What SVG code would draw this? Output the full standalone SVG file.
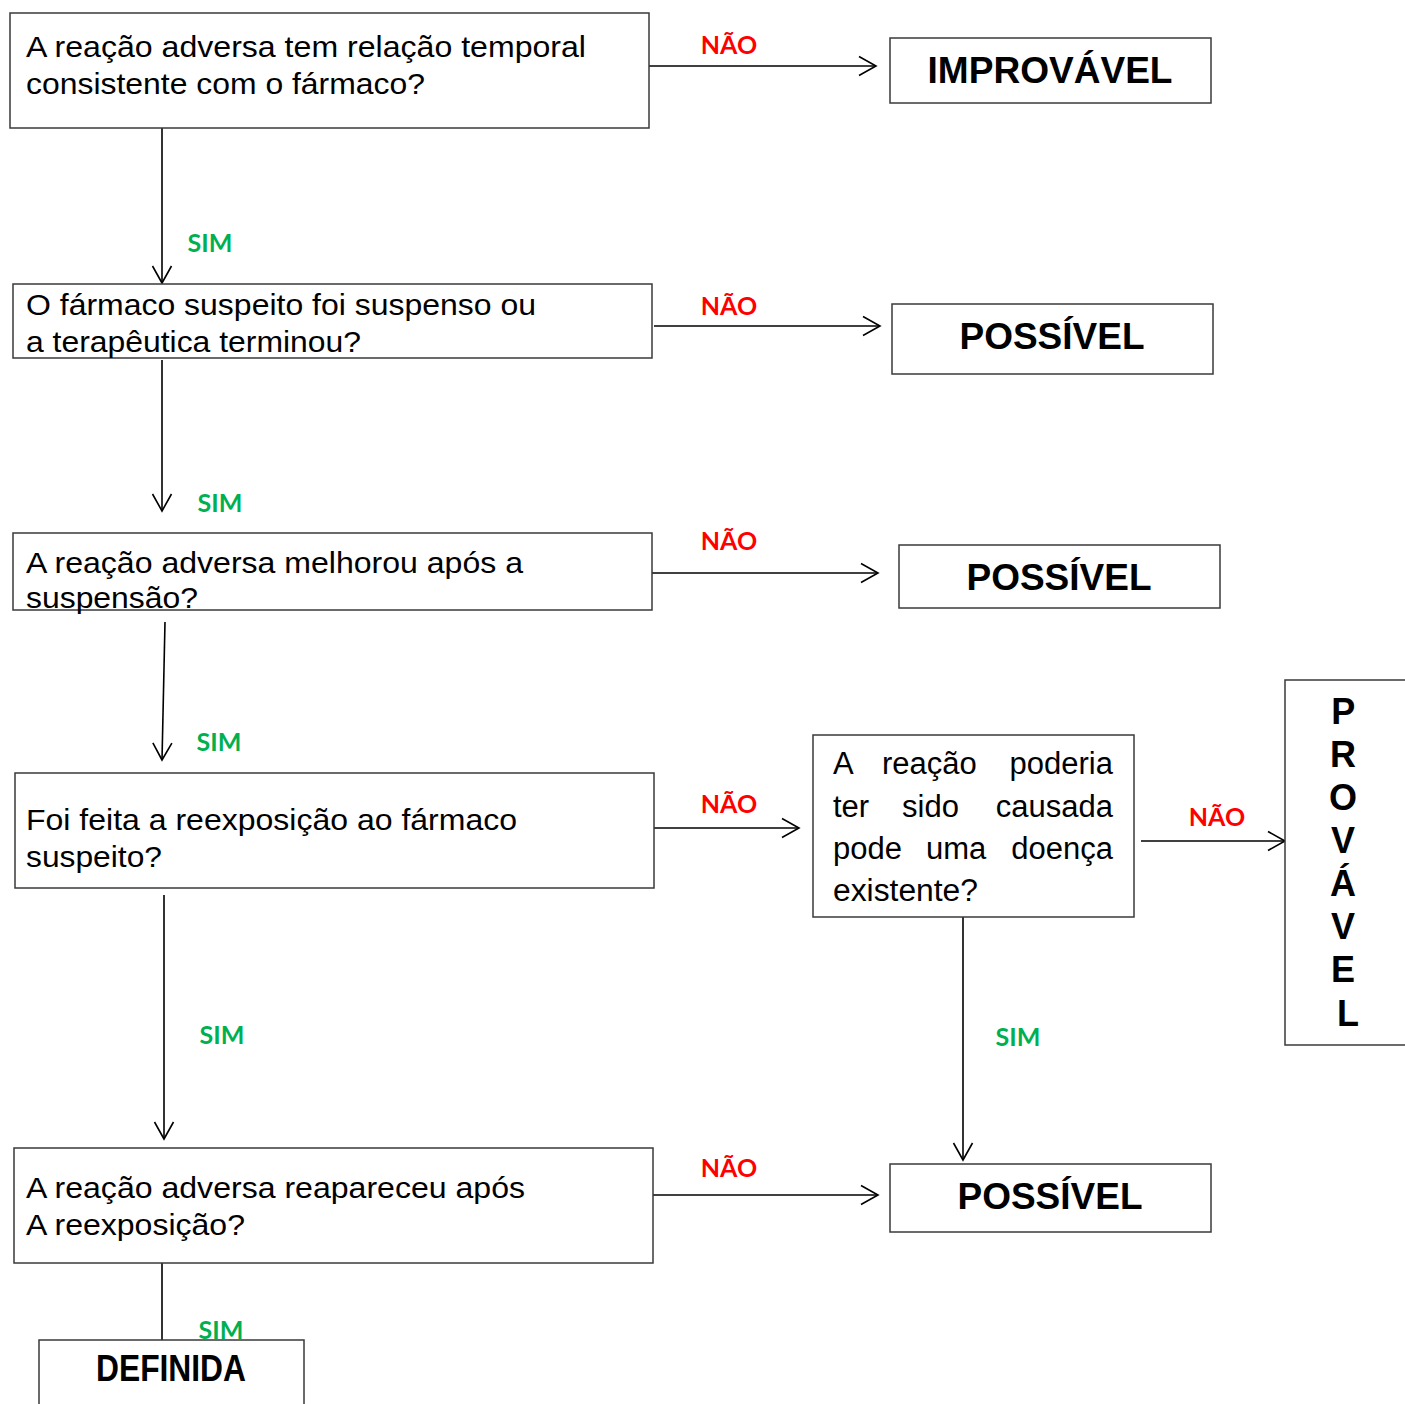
<svg xmlns="http://www.w3.org/2000/svg" width="1405" height="1404" viewBox="0 0 1405 1404">
  <defs>
    <style>
      .box { fill: #ffffff; stroke: #3a3a3a; stroke-width: 1.5; }
      .q { font-family: "Liberation Sans", Arial, sans-serif; font-size: 30px; fill: #000000; }
      .q5 { font-size: 31px; }
      .res { font-family: "Liberation Sans", Arial, sans-serif; font-size: 36px; font-weight: bold; fill: #000000; text-anchor: middle; }
      .edge { fill: none; stroke: #000000; stroke-width: 1.6; }
      .no { font-family: Lato, "Open Sans", sans-serif; font-size: 25px; font-weight: bold; fill: #ff0000; text-anchor: middle; }
      .yes { font-family: Lato, "Open Sans", sans-serif; font-size: 25px; font-weight: bold; fill: #00b050; text-anchor: middle; }
    </style>
    <marker id="open-arrow" markerUnits="userSpaceOnUse" viewBox="-20 -12 22 24" refX="0" refY="0" markerWidth="22" markerHeight="24" orient="auto" overflow="visible">
      <path d="M-17,-9.5 L0,0 L-17,9.5" fill="none" stroke="#000000" stroke-width="1.6"/>
    </marker>
  </defs>
  <rect width="1405" height="1404" fill="#ffffff"/>

  <!-- connectors -->
  <g id="connectors">
    <path class="edge" d="M649,66 H876" marker-end="url(#open-arrow)"/>
    <path class="edge" d="M654,326 H880" marker-end="url(#open-arrow)"/>
    <path class="edge" d="M652,573 H878" marker-end="url(#open-arrow)"/>
    <path class="edge" d="M652,828 H799" marker-end="url(#open-arrow)"/>
    <path class="edge" d="M1141,841 H1285" marker-end="url(#open-arrow)"/>
    <path class="edge" d="M652,1195 H878" marker-end="url(#open-arrow)"/>
    <path class="edge" d="M162,128 V283" marker-end="url(#open-arrow)"/>
    <path class="edge" d="M162,360 V511" marker-end="url(#open-arrow)"/>
    <path class="edge" d="M165,622 L162,760" marker-end="url(#open-arrow)"/>
    <path class="edge" d="M164,895 V1139" marker-end="url(#open-arrow)"/>
    <path class="edge" d="M963,917 V1160" marker-end="url(#open-arrow)"/>
    <path class="edge" d="M162,1263 V1340"/>
  </g>

  <!-- branch labels -->
  <g id="labels">
    <text class="no" x="729" y="54">NÃO</text>
    <text class="no" x="729" y="315">NÃO</text>
    <text class="no" x="729" y="550">NÃO</text>
    <text class="no" x="729" y="813">NÃO</text>
    <text class="no" x="1217" y="826">NÃO</text>
    <text class="no" x="729" y="1177">NÃO</text>
    <text class="yes" x="210" y="252">SIM</text>
    <text class="yes" x="220" y="512">SIM</text>
    <text class="yes" x="219" y="751">SIM</text>
    <text class="yes" x="222" y="1044">SIM</text>
    <text class="yes" x="1018" y="1046">SIM</text>
    <text class="yes" x="221" y="1339">SIM</text>
  </g>

  <!-- question nodes -->
  <g id="q-temporal">
    <rect class="box" x="10" y="13" width="639" height="115"/>
    <text class="q" x="26" y="57" textLength="560" lengthAdjust="spacingAndGlyphs">A reação adversa tem relação temporal</text>
    <text class="q" x="26" y="94" textLength="399" lengthAdjust="spacingAndGlyphs">consistente com o fármaco?</text>
  </g>
  <g id="q-suspenso">
    <rect class="box" x="13" y="284" width="639" height="74"/>
    <text class="q" x="26" y="315" textLength="510" lengthAdjust="spacingAndGlyphs">O fármaco suspeito foi suspenso ou</text>
    <text class="q" x="26" y="352" textLength="335" lengthAdjust="spacingAndGlyphs">a terapêutica terminou?</text>
  </g>
  <g id="q-melhorou">
    <rect class="box" x="13" y="533" width="639" height="77"/>
    <text class="q" x="26" y="573" textLength="497" lengthAdjust="spacingAndGlyphs">A reação adversa melhorou após a</text>
    <text class="q" x="26" y="608" textLength="172" lengthAdjust="spacingAndGlyphs">suspensão?</text>
  </g>
  <g id="q-reexposicao">
    <rect class="box" x="15" y="773" width="639" height="115"/>
    <text class="q" x="26" y="830" textLength="491" lengthAdjust="spacingAndGlyphs">Foi feita a reexposição ao fármaco</text>
    <text class="q" x="26" y="867" textLength="136" lengthAdjust="spacingAndGlyphs">suspeito?</text>
  </g>
  <g id="q-doenca">
    <rect class="box" x="813" y="735" width="321" height="182"/>
    <text class="q q5" y="774"><tspan x="833">A</tspan><tspan x="882">reação</tspan></text>
    <text class="q q5" x="1113" y="774" text-anchor="end">poderia</text>
    <text class="q q5" y="817"><tspan x="833">ter</tspan><tspan x="902">sido</tspan></text>
    <text class="q q5" x="1113" y="817" text-anchor="end">causada</text>
    <text class="q q5" y="859"><tspan x="833">pode</tspan><tspan x="926">uma</tspan></text>
    <text class="q q5" x="1113" y="859" text-anchor="end">doença</text>
    <text class="q q5" x="833" y="901" textLength="145" lengthAdjust="spacingAndGlyphs">existente?</text>
  </g>
  <g id="q-reapareceu">
    <rect class="box" x="14" y="1148" width="639" height="115"/>
    <text class="q" x="26" y="1198" textLength="499" lengthAdjust="spacingAndGlyphs">A reação adversa reapareceu após</text>
    <text class="q" x="26" y="1235" textLength="219" lengthAdjust="spacingAndGlyphs">A reexposição?</text>
  </g>

  <!-- outcome nodes -->
  <g id="r-improvavel">
    <rect class="box" x="890" y="38" width="321" height="65"/>
    <text class="res" x="1050" y="83" textLength="245" lengthAdjust="spacingAndGlyphs">IMPROVÁVEL</text>
  </g>
  <g id="r-possivel-1">
    <rect class="box" x="892" y="304" width="321" height="70"/>
    <text class="res" x="1052" y="349" textLength="185" lengthAdjust="spacingAndGlyphs">POSSÍVEL</text>
  </g>
  <g id="r-possivel-2">
    <rect class="box" x="899" y="545" width="321" height="63"/>
    <text class="res" x="1059" y="590" textLength="185" lengthAdjust="spacingAndGlyphs">POSSÍVEL</text>
  </g>
  <g id="r-possivel-3">
    <rect class="box" x="890" y="1164" width="321" height="68"/>
    <text class="res" x="1050" y="1209" textLength="185" lengthAdjust="spacingAndGlyphs">POSSÍVEL</text>
  </g>
  <g id="r-provavel">
    <rect class="box" x="1285" y="680" width="140" height="365"/>
    <text class="res" font-size="35">
      <tspan x="1348" y="724">P</tspan>
      <tspan x="1348" y="767">R</tspan>
      <tspan x="1348" y="810">O</tspan>
      <tspan x="1348" y="853">V</tspan>
      <tspan x="1348" y="896">Á</tspan>
      <tspan x="1348" y="939">V</tspan>
      <tspan x="1348" y="982">E</tspan>
      <tspan x="1348" y="1026">L</tspan>
    </text>
  </g>
  <g id="r-definida">
    <rect class="box" x="39" y="1340" width="265" height="80"/>
    <text class="res" x="171" y="1381" font-size="30" textLength="150" lengthAdjust="spacingAndGlyphs">DEFINIDA</text>
  </g>
</svg>
